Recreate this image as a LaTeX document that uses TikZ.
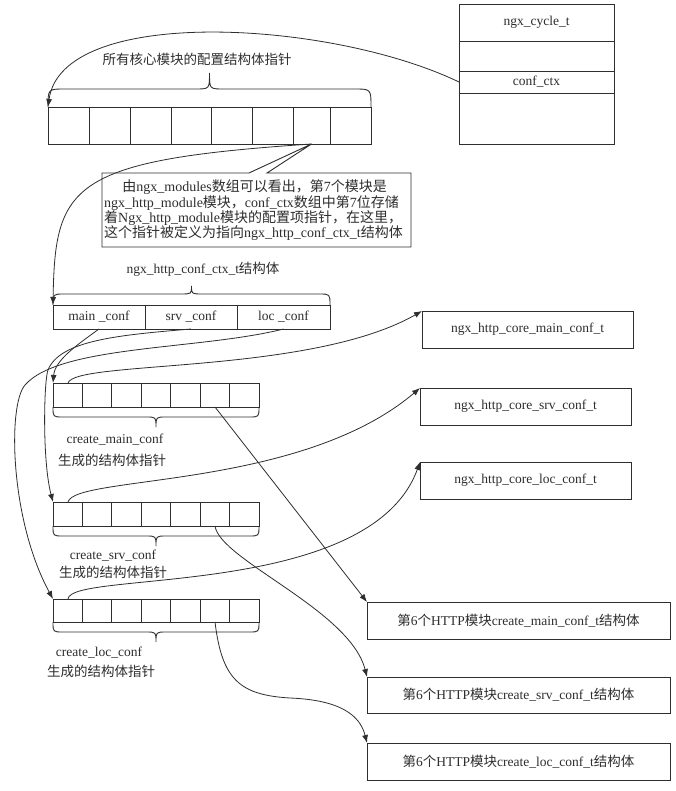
\documentclass[tikz,border=0pt]{standalone}
\usepackage{fontspec}
\setmainfont{Liberation Serif}
\newfontfamily\cjk{Noto Sans CJK SC}
\usetikzlibrary{arrows.meta}
\newcommand\zh[1]{{\cjk #1}}
\definecolor{ink}{HTML}{2E2E2E}
\tikzset{
  ln/.style={draw=ink, line width=0.9pt},
  box/.style={draw=ink, line width=0.9pt, inner sep=0pt, outer sep=0pt, anchor=north west,
              font=\fontsize{13.5}{15}\selectfont, text=ink},
  lbl/.style={inner sep=0pt, font=\fontsize{13.5}{15}\selectfont, text=ink},
  arr/.style={draw=ink, line width=0.8pt, -{Latex[length=8pt,width=6pt]}},
}
\newcommand\lowbrace[2]{% #1 = tip y, #2 = center x
  \draw[ln] (53,#1) .. controls (53,{#1+10}) .. (63,{#1+10}) -- ({#2-10},{#1+10})
    .. controls (#2,{#1+10}) .. (#2,{#1+20}) .. controls (#2,{#1+10}) .. ({#2+10},{#1+10})
    -- (249,{#1+10}) .. controls (259,{#1+10}) .. (259,#1);}
\newcommand\cells[2]{% #1 = top y, #2 = height
  \foreach \k in {1,...,6} \draw[ln] ({53+\k*206/7},#1) -- ++(0,#2);}
\begin{document}
\begin{tikzpicture}[x=1pt,y=-1pt]
\path[use as bounding box, fill=white] (0,0) rectangle (675,791);

% ngx_cycle_t
\node[box, minimum width=155pt, minimum height=140pt] (cyc) at (459,4) {};
\node[box, minimum width=155pt, minimum height=37pt] (cyt) at (459,4) {ngx\_cycle\_t};
\node[box, minimum width=155pt, minimum height=22pt] (cfx) at (459,71) {conf\_ctx};

% top array of core module configs
\node[box, minimum width=323pt, minimum height=37pt] (arr) at (48,107) {};
\foreach \x in {89,130,171,211,252,293,330} \draw[ln] (\x,107) -- (\x,144);
\coordinate (c7) at (311.5,144);
\draw[ln] (48,107) .. controls (48,89) .. (65,89) -- (195.5,89)
  .. controls (209.5,89) .. (209.5,73) .. controls (209.5,89) .. (223.5,89)
  -- (354,89) .. controls (371,89) .. (371,107);
\node[lbl] (hdr) at (197,59) {\zh{所有核心模块的配置结构体指针}};

\draw[arr] (cfx.west) .. controls (330,20) and (62,5) .. (arr.north west);

% callout
\node[lbl, anchor=west, align=left, font=\fontsize{14}{15.3}\selectfont] (note) at (104,210.5)
  {\hspace*{1.3em}\zh{由}ngx\_modules\zh{数组可以看出，第}7\zh{个模块是}\\
   ngx\_http\_module\zh{模块，}conf\_ctx\zh{数组中第}7\zh{位存储}\\
   \zh{着}Ngx\_http\_module\zh{模块的配置项指针，在这里，}\\
   \zh{这个指针被定义为指向}ngx\_http\_conf\_ctx\_t\zh{结构体}};
\draw[ln] (102,173) -- (249,173) -- (c7) -- (267,173) -- (411,173) -- (411,247) -- (102,247) -- cycle;

% ngx_http_conf_ctx_t
\node[box, minimum width=92pt, minimum height=24pt] (mc) at (53,305) {main \_conf};
\node[box, minimum width=92pt, minimum height=24pt] (sc) at (145,305) {srv \_conf};
\node[box, minimum width=93pt, minimum height=24pt] (lc) at (237,305) {loc \_conf};
\draw[ln] (53,305) .. controls (53,294) .. (64,294) -- (180.5,294)
  .. controls (191.5,294) .. (191.5,286) .. controls (191.5,294) .. (202.5,294)
  -- (319,294) .. controls (330,294) .. (330,305);
\node[lbl] (ctxt) at (203,269) {ngx\_http\_conf\_ctx\_t\zh{结构体}};

\draw[arr] (c7) .. controls (70,160) and (55,185) .. (mc.north west);

% create_* arrays
\node[box, minimum width=206pt, minimum height=24pt] (ma) at (53,383) {};
\cells{383}{24}
\lowbrace{407}{156}
\node[lbl] (mat) at (115,440) {create\_main\_conf};
\node[lbl] (mad) at (112,460) {\zh{生成的结构体指针}};

\node[box, minimum width=206pt, minimum height=24pt] (sa) at (53,502) {};
\cells{502}{24}
\lowbrace{526}{156}
\node[lbl] (sat) at (113,556) {create\_srv\_conf};
\node[lbl] (sad) at (113,572) {\zh{生成的结构体指针}};

\node[box, minimum width=206pt, minimum height=23pt] (la) at (53,599) {};
\cells{599}{23}
\lowbrace{622}{156}
\node[lbl] (lat) at (99,653) {create\_loc\_conf};
\node[lbl] (lad) at (101,671) {\zh{生成的结构体指针}};

% ctx -> arrays
\draw[arr] (mc.south) .. controls (77,345) and (55,360) .. (ma.north west);
\draw[arr] (sc.south) .. controls (120,335) and (60,340) .. (48,370)
  .. controls (44,380) and (42,460) .. (sa.north west);
\draw[arr] (lc.south) .. controls (200,350) and (60,345) .. (25,385)
  .. controls (7.5,405) and (10,520) .. (la.north west);

% core conf structs
\node[box, minimum width=211pt, minimum height=37pt] (cm) at (422,311) {ngx\_http\_core\_main\_conf\_t};
\node[box, minimum width=211pt, minimum height=37pt] (cs) at (420,388) {ngx\_http\_core\_srv\_conf\_t};
\node[box, minimum width=211pt, minimum height=37pt] (cl) at (420,462) {ngx\_http\_core\_loc\_conf\_t};

\draw[arr] ([xshift=15pt]ma.north west) .. controls (75,360) and (310,375) .. (cm.north west);
\draw[arr] ([xshift=15pt]sa.north west) .. controls (75,475) and (300,490) .. (cs.north west);
\draw[arr] ([xshift=15pt]la.north west) .. controls (70,570) and (370,600) .. (cl.north west);

% 6th HTTP module structs
\node[box, minimum width=303pt, minimum height=37pt] (b1) at (367,602)
  {\zh{第}6\zh{个}HTTP\zh{模块}create\_main\_conf\_t\zh{结构体}};
\node[box, minimum width=303pt, minimum height=36pt] (b2) at (367,677)
  {\zh{第}6\zh{个}HTTP\zh{模块}create\_srv\_conf\_t\zh{结构体}};
\node[box, minimum width=303pt, minimum height=37pt] (b3) at (367,743)
  {\zh{第}6\zh{个}HTTP\zh{模块}create\_loc\_conf\_t\zh{结构体}};

\draw[arr] ([xshift=162pt]ma.south west) -- (b1.north west);
\draw[arr] ([xshift=162pt]sa.south west) .. controls (220,560) and (350,610) .. (b2.north west);
\draw[arr] ([xshift=162pt]la.south west) .. controls (222,680) and (240,695) .. (290,698)
  .. controls (340,700) and (360,715) .. (b3.north west);
\end{tikzpicture}
\end{document}
